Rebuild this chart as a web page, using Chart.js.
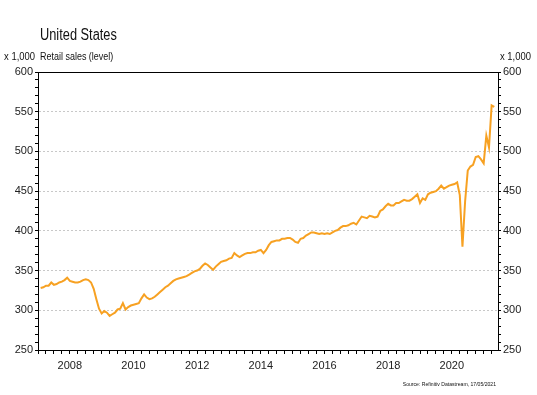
<!DOCTYPE html>
<html lang="en">
<head>
<meta charset="UTF-8">
<title>United States - Retail sales (level)</title>
<script src="https://cdn.jsdelivr.net/npm/chart.js@4.4.1/dist/chart.umd.min.js"></script>
<style>
  html, body { margin: 0; padding: 0; background: #fff; }
  #wrap { width: 537px; height: 395px; }
</style>
</head>
<body>
<div id="wrap"><canvas id="salesChart" width="537" height="395"></canvas></div>
<script>
    // monthly retail sales, x 1,000, Jan 2007 .. Apr 2021
    const firstYear = 2007;
    const sales2007 = [328, 329, 331, 331, 335, 332, 333, 335, 336, 338, 341, 337];
    const sales2008 = [336, 335, 335, 336, 338, 339, 338, 335, 327, 314, 302, 296];
    const sales2009 = [299, 297, 293, 295, 297, 301, 302, 309, 301, 304, 306, 307];
    const sales2010 = [308, 309, 315, 320, 316, 314, 315, 317, 320, 323, 326, 329];
    const sales2011 = [331, 334, 337, 339, 340, 341, 342, 343, 345, 347, 349, 350];
    const sales2012 = [352, 356, 359, 357, 354, 351, 355, 358, 361, 362, 363, 365];
    const sales2013 = [366, 372, 369, 367, 369, 371, 372, 372, 373, 373, 375, 376];
    const sales2014 = [372, 376, 382, 386, 387, 388, 388, 390, 390, 391, 391, 389];
    const sales2015 = [386, 385, 390, 391, 394, 396, 398, 398, 397, 396, 397, 396];
    const sales2016 = [397, 396, 398, 400, 401, 404, 406, 406, 407, 409, 410, 408];
    const sales2017 = [413, 418, 417, 416, 419, 418, 417, 418, 425, 427, 431, 434];
    const sales2018 = [432, 432, 435, 435, 437, 439, 438, 438, 440, 443, 446, 435];
    const sales2019 = [441, 439, 446, 448, 449, 450, 453, 457, 453, 455, 457, 458];
    const sales2020 = [459, 461, 445, 380, 437, 476, 481, 483, 493, 494, 490, 485];
    const sales2021 = [520, 505, 558, 556];

    const xLabelYears = [2008, 2010, 2012, 2014, 2016, 2018, 2020];
    const yLabelValues = [250, 300, 350, 400, 450, 500, 550, 600];
    const xMin = 2007, xMax = 2021.45;
    const yMin = 250, yMax = 600;

    const retailSales = [].concat(sales2007, sales2008, sales2009, sales2010, sales2011,
        sales2012, sales2013, sales2014, sales2015, sales2016, sales2017, sales2018,
        sales2019, sales2020, sales2021);
    // each month plotted at its month end
    const points = retailSales.map((v, i) => ({ x: firstYear + (i + 1) / 12, y: v }));

    const FONT = "'Liberation Sans', Arial, sans-serif";

    // quarterly ticks on the time axis, every 10 on the value axes
    const quarterTicks = [];
    for (let q = xMin * 4; q <= Math.floor(xMax * 4); q++) quarterTicks.push({ value: q / 4 });
    const tenTicks = [];
    for (let v = yMin; v <= yMax; v += 10) tenTicks.push({ value: v });

    // Arial Narrow look: squeeze the text horizontally
    function narrowText(ctx, text, x, y, align, size, squeeze) {
        ctx.save();
        ctx.font = size + 'px ' + FONT;
        ctx.translate(x, y);
        ctx.scale(squeeze, 1);
        ctx.textAlign = align;
        ctx.fillText(text, 0, 0);
        ctx.restore();
    }

    const frame = {
        id: 'frame',
        afterDraw(chart) {
            const { ctx, chartArea: a } = chart;
            ctx.save();
            ctx.strokeStyle = '#000';
            ctx.lineWidth = 1;
            ctx.beginPath();
            ctx.moveTo(a.left, a.top + 0.5);
            ctx.lineTo(a.right, a.top + 0.5);
            ctx.stroke();

            ctx.fillStyle = '#111';
            ctx.textBaseline = 'alphabetic';
            narrowText(ctx, 'United States', 40, 40, 'left', 16, 0.8);
            narrowText(ctx, 'x 1,000', 35, 60, 'right', 11.5, 0.82);
            narrowText(ctx, 'Retail sales (level)', 40, 60, 'left', 11.5, 0.78);
            narrowText(ctx, 'x 1,000', 500, 60, 'left', 11.5, 0.82);
            narrowText(ctx, 'Source: Refinitiv Datastream, 17/05/2021', 496, 386, 'right', 6, 0.85);
            ctx.restore();
        }
    };

    const tickFont = { family: FONT, size: 11 };

    new Chart(document.getElementById('salesChart').getContext('2d'), {
        type: 'line',
        data: {
            datasets: [{
                label: 'Retail sales (level)',
                data: points,
                borderColor: '#f7a122',
                borderWidth: 2,
                pointRadius: 0,
                tension: 0,
                fill: false
            }]
        },
        options: {
            responsive: false,
            animation: false,
            layout: { padding: { top: 72, left: 0, right: 0, bottom: 0 } },
            plugins: { legend: { display: false }, tooltip: { enabled: false } },
            scales: {
                x: {
                    type: 'linear',
                    position: 'bottom',
                    min: xMin,
                    max: xMax,
                    afterBuildTicks: s => { s.ticks = quarterTicks.slice(); },
                    afterFit: s => { s.height = 45; },
                    ticks: {
                        autoSkip: false,
                        maxRotation: 0,
                        padding: 5,
                        color: '#222',
                        font: tickFont,
                        callback: v => xLabelYears.includes(v) ? String(v) : ''
                    },
                    grid: { drawOnChartArea: false, tickLength: 4, tickColor: '#000' },
                    border: { color: '#000', width: 1 }
                },
                y: {
                    position: 'left',
                    min: yMin,
                    max: yMax,
                    afterBuildTicks: s => { s.ticks = tenTicks.slice(); },
                    afterFit: s => { s.width = 38; },
                    ticks: {
                        autoSkip: false,
                        padding: 2,
                        color: '#222',
                        font: tickFont,
                        callback: v => yLabelValues.includes(v) ? String(v) : ''
                    },
                    grid: {
                        color: c => (c.tick && c.tick.value % 50 === 0 && c.tick.value > yMin && c.tick.value < yMax) ? '#c8c8c8' : 'rgba(0,0,0,0)',
                        tickColor: '#000',
                        tickLength: 3
                    },
                    border: { color: '#000', width: 1, dash: [2, 2] }
                },
                y2: {
                    position: 'right',
                    min: yMin,
                    max: yMax,
                    afterBuildTicks: s => { s.ticks = tenTicks.slice(); },
                    afterFit: s => { s.width = 39; },
                    ticks: {
                        autoSkip: false,
                        padding: 2,
                        color: '#222',
                        font: tickFont,
                        callback: v => yLabelValues.includes(v) ? String(v) : ''
                    },
                    grid: { drawOnChartArea: false, tickColor: '#000', tickLength: 3 },
                    border: { color: '#000', width: 1 }
                }
            }
        },
        plugins: [frame]
    });
</script>
</body>
</html>
